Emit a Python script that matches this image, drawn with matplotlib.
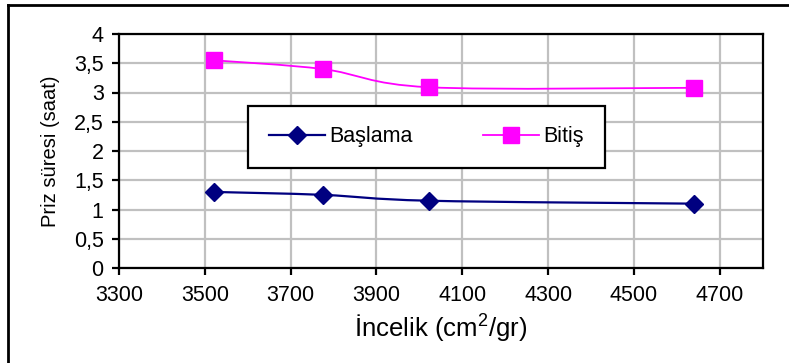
import matplotlib
matplotlib.use("Agg")
import matplotlib.pyplot as plt
from matplotlib.path import Path
from matplotlib.patches import PathPatch
from matplotlib.lines import Line2D
from matplotlib.ticker import FuncFormatter

plt.rcParams['font.family'] = ['Liberation Sans', 'DejaVu Sans']
plt.rcParams['mathtext.fontset'] = 'custom'
plt.rcParams['mathtext.rm'] = 'Liberation Sans'
plt.rcParams['mathtext.it'] = 'Liberation Sans'

# Data
incelik = [3522, 3776, 4022, 4640]
baslama = [1.30, 1.25, 1.15, 1.10]
bitis = [3.55, 3.40, 3.09, 3.08]
series_names = ["Başlama", "Bitiş"]
x_ticks = [3300, 3500, 3700, 3900, 4100, 4300, 4500, 4700]
y_ticks = [0, 0.5, 1, 1.5, 2, 2.5, 3, 3.5, 4]

W, H = 789, 363
fig = plt.figure(figsize=(W / 100, H / 100), dpi=100)
ax = fig.add_axes([119 / W, 1 - 268 / H, (762.7 - 119) / W, (268 - 34) / H])

ax.set_xlim(3300, 4800)
ax.set_ylim(0, 4)
ax.set_xticks(x_ticks)
ax.set_yticks(y_ticks)
ax.yaxis.set_major_formatter(FuncFormatter(
    lambda v, p: (f"{v:g}").replace(".", ",")))
ax.grid(True, color="#c0c0c0", lw=1.6)
ax.set_axisbelow(True)
for s in ax.spines.values():
    s.set_linewidth(1.6)
    s.set_color("black")
ax.tick_params(axis="both", direction="out", length=5, width=1.6,
               labelsize=15.5, colors="black")
ax.tick_params(axis="x", pad=7)
ax.tick_params(axis="y", pad=6)


def smooth_path(xs, ys):
    pts = list(zip(xs, ys))
    n = len(pts)
    verts = [pts[0]]
    codes = [Path.MOVETO]
    for i in range(n - 1):
        p0 = pts[i - 1] if i > 0 else pts[i]
        p1 = pts[i]
        p2 = pts[i + 1]
        p3 = pts[i + 2] if i + 2 < n else pts[i + 1]
        c1 = (p1[0] + (p2[0] - p0[0]) / 6, p1[1] + (p2[1] - p0[1]) / 6)
        c2 = (p2[0] - (p3[0] - p1[0]) / 6, p2[1] - (p3[1] - p1[1]) / 6)
        verts += [c1, c2, p2]
        codes += [Path.CURVE4] * 3
    return Path(verts, codes)


styles = [
    dict(color="#000080", marker="D", ms=9, lw=1.6),
    dict(color="#ff00ff", marker="s", ms=11.5, lw=1.3),
]
handles = []
for yv, st, name in zip([baslama, bitis], styles, series_names):
    ax.add_patch(PathPatch(smooth_path(incelik, yv), fill=False,
                           edgecolor=st["color"], lw=st["lw"], zorder=3))
    ax.plot(incelik, yv, linestyle="none", marker=st["marker"],
            ms=st["ms"], color=st["color"], mec=st["color"], zorder=4)
    handles.append(Line2D([], [], color=st["color"], lw=st["lw"],
                          marker=st["marker"], ms=st["ms"], mec=st["color"]))

leg = ax.legend(handles, series_names, ncol=2, loc="center",
                bbox_to_anchor=(426.5 / W, 1 - 137 / H),
                bbox_transform=fig.transFigure, fontsize=15.5,
                frameon=True, fancybox=False, shadow=False,
                borderpad=0.95, handlelength=2.6, handletextpad=0.2,
                columnspacing=3.3, borderaxespad=0)
leg.get_frame().set_edgecolor("black")
leg.get_frame().set_linewidth(1.6)
leg.get_frame().set_facecolor("white")
leg.get_frame().set_alpha(1)

ax.set_xlabel("İncelik (cm$^2$/gr)", fontsize=18.5, labelpad=5)
ax.set_ylabel("Priz süresi (saat)", fontsize=14.5)
ax.yaxis.set_label_coords(-0.092, 0.5)

# outer chart frame (left and top edges visible)
fig.add_artist(Line2D([8 / W, 8 / W], [0, 1 - 5 / H], color="black",
                      lw=2, transform=fig.transFigure))
fig.add_artist(Line2D([8 / W, 1], [1 - 5 / H, 1 - 5 / H], color="black",
                      lw=2, transform=fig.transFigure))

fig.savefig("out.png", dpi=100)
